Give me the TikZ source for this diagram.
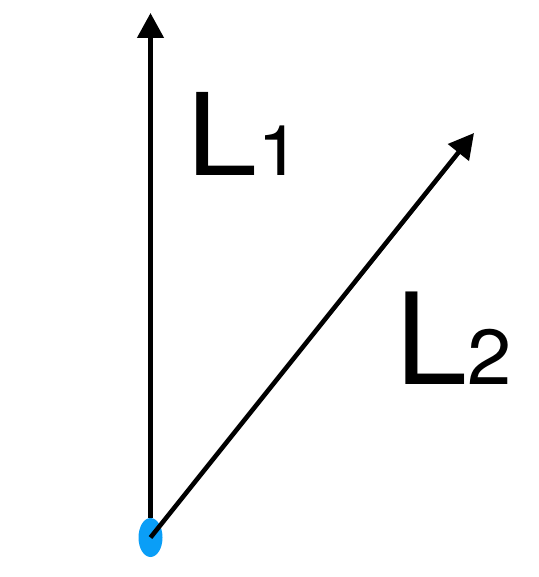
\documentclass[tikz,border=0pt]{standalone}
\usepackage{fontspec}
\setmainfont{TeX Gyre Heros}
\usetikzlibrary{arrows.meta,shapes.geometric}
\definecolor{azul}{HTML}{0A9EF7}

\begin{document}
\begin{tikzpicture}[x=0.5pt,y=-0.5pt,
  flecha/.style={-{Triangle[length=12.5pt,width=13pt]},line width=2.3pt,black},
  punto/.style={ellipse,fill=azul,draw=none,inner sep=0pt,minimum width=12pt,minimum height=19.5pt},
  lbl/.style={anchor=base west,inner sep=0pt}]
\useasboundingbox (0,0) rectangle (538,577);
\node[punto] (base) at (150.5,537.5) {};
\coordinate (p1) at (150.5,13);
\coordinate (p2) at (474,133);
\node[lbl] (l1) at (186,176) {\scalebox{1.12}[1]{\fontsize{57}{57}\selectfont L\fontsize{35}{35}\selectfont 1}};
\node[lbl] (l2) at (395,384) {\scalebox{1.02}[1]{\fontsize{63.5}{63.5}\selectfont L\fontsize{39}{39}\selectfont 2}};
\draw[flecha] (base.north) -- (p1);
\draw[flecha] (base.center) -- (p2);
\end{tikzpicture}
\end{document}
